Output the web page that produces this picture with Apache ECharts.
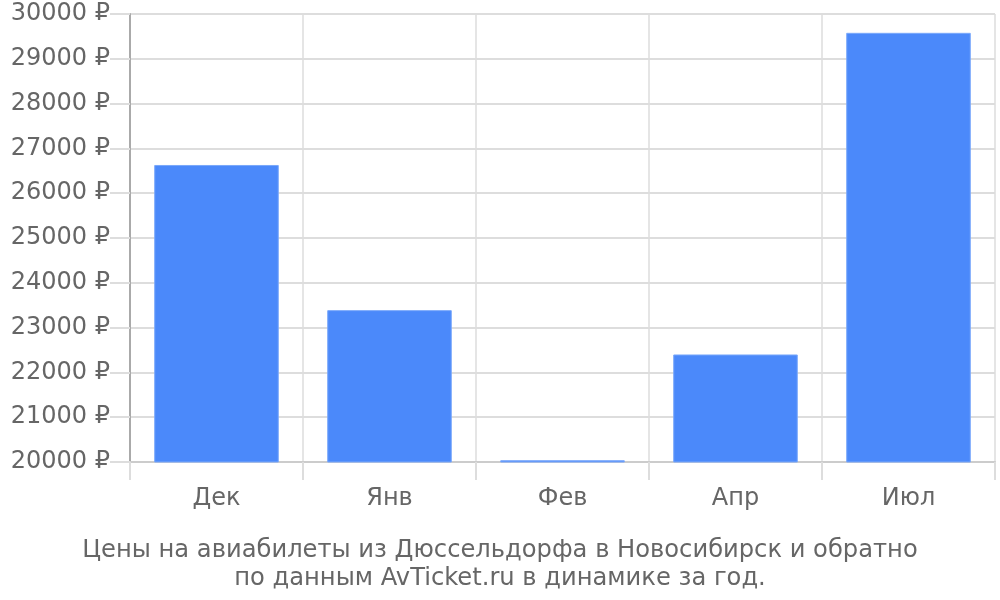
<!DOCTYPE html>
<html>
<head>
<meta charset="utf-8">
<script src="https://cdn.jsdelivr.net/npm/echarts@6/dist/echarts.min.js"></script>
<style>
html,body{margin:0;padding:0;background:#fff;}
#chart{width:1000px;height:600px;}
</style>
</head>
<body>
<div id="chart"></div>
<script>
const categories = ['Дек', 'Янв', 'Фев', 'Апр', 'Июл'];
const prices = [26630, 23390, 20040, 22400, 29580];
const titleLines = ['Цены на авиабилеты из Дюссельдорфа в Новосибирск и обратно', 'по данным AvTicket.ru в динамике за год.'];

const chart = echarts.init(document.getElementById('chart'), null, {renderer: 'canvas'});
const font = 'DejaVu Sans';
chart.setOption({
  animation: false,
  textStyle: {fontFamily: font},
  title: {
    text: titleLines.join('\n'),
    left: 'center',
    top: 531,
    textStyle: {fontFamily: font, fontSize: 24.2, fontWeight: 'normal', color: '#666', lineHeight: 28.5}
  },
  grid: {left: 130, right: 5, top: 14, bottom: 138, containLabel: false},
  xAxis: {
    type: 'category',
    data: categories,
    boundaryGap: true,
    axisLine: {show: true, lineStyle: {color: '#ccc', width: 2}},
    axisTick: {show: true, length: 18, lineStyle: {color: '#ddd', width: 2}},
    splitLine: {show: true, lineStyle: {color: '#ddd', width: 1.5}},
    axisLabel: {fontFamily: font, fontSize: 24, color: '#666', margin: 25}
  },
  yAxis: {
    type: 'value',
    min: 20000,
    max: 30000,
    interval: 1000,
    axisLine: {show: true, lineStyle: {color: '#aaa', width: 2}},
    axisTick: {show: true, length: 20, lineStyle: {color: '#ddd', width: 2}},
    splitLine: {show: true, lineStyle: {color: '#ddd', width: 2}},
    axisLabel: {fontFamily: font, fontSize: 24, color: '#666', margin: 20, padding: [4, 0, 0, 0], formatter: function (v) { return v + ' ₽'; }}
  },
  series: [{
    type: 'bar',
    data: prices,
    barWidth: '72%',
    itemStyle: {color: '#4b89fa', borderColor: '#7aa8fb', borderWidth: 1}
  }]
});
</script>
</body>
</html>
